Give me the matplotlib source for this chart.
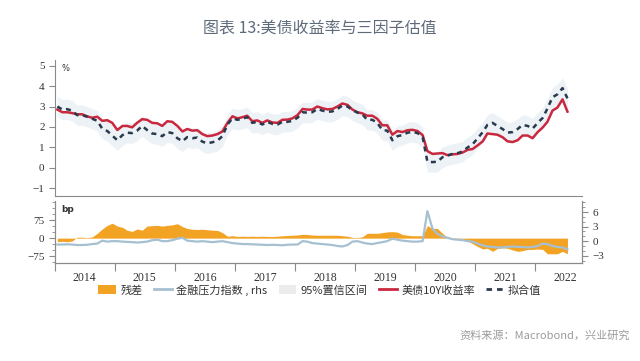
import matplotlib
matplotlib.use("Agg")
import matplotlib.pyplot as plt
from matplotlib.patches import Patch
from matplotlib.lines import Line2D
from matplotlib.ticker import MultipleLocator, NullFormatter
import numpy as np
import pandas as pd

plt.rcParams['font.family'] = ['Noto Sans CJK SC', 'DejaVu Sans']

# monthly (mid-month) readings, Jan 2014 - Jul 2022
dates = pd.date_range('2014-01-01', '2022-07-01', freq='MS') + pd.Timedelta(days=14)

ust10y = [
    2.85, 2.72, 2.72, 2.68, 2.62, 2.62, 2.52, 2.45, 2.50, 2.30, 2.33, 2.20,
    1.85, 2.05, 2.05, 1.98, 2.20, 2.38, 2.35, 2.20, 2.18, 2.05, 2.28, 2.25,
    2.05, 1.78, 1.90, 1.82, 1.84, 1.65, 1.55, 1.58, 1.65, 1.78, 2.20, 2.52,
    2.42, 2.48, 2.55, 2.28, 2.32, 2.20, 2.32, 2.22, 2.20, 2.35, 2.36, 2.42,
    2.58, 2.88, 2.85, 2.85, 3.00, 2.92, 2.86, 2.88, 3.00, 3.15, 3.08, 2.85,
    2.72, 2.66, 2.55, 2.55, 2.40, 2.08, 2.08, 1.62, 1.80, 1.75, 1.84, 1.86,
    1.80, 1.60, 0.82, 0.68, 0.70, 0.72, 0.62, 0.66, 0.68, 0.75, 0.88, 0.92,
    1.10, 1.30, 1.68, 1.65, 1.62, 1.50, 1.30, 1.26, 1.35, 1.58, 1.58, 1.45,
    1.75, 1.98, 2.25, 2.80, 2.95, 3.35, 2.75,
]
fitted = [
    3.00, 2.85, 2.87, 2.80, 2.58, 2.58, 2.50, 2.40, 2.30, 1.92, 1.80, 1.58,
    1.35, 1.60, 1.72, 1.70, 1.82, 2.05, 1.85, 1.68, 1.65, 1.55, 1.75, 1.70,
    1.45, 1.30, 1.50, 1.45, 1.48, 1.28, 1.20, 1.25, 1.33, 1.55, 2.12, 2.42,
    2.35, 2.40, 2.48, 2.20, 2.25, 2.12, 2.25, 2.15, 2.12, 2.25, 2.25, 2.30,
    2.45, 2.72, 2.70, 2.72, 2.88, 2.80, 2.74, 2.76, 2.88, 3.05, 3.00, 2.82,
    2.70, 2.60, 2.35, 2.35, 2.20, 1.85, 1.82, 1.35, 1.55, 1.60, 1.72, 1.76,
    1.70, 1.50, 0.30, 0.28, 0.30, 0.52, 0.60, 0.68, 0.72, 0.80, 1.00, 1.15,
    1.45, 1.75, 2.10, 2.20, 2.05, 1.90, 1.72, 1.75, 1.90, 2.10, 2.05, 1.92,
    2.20, 2.45, 2.90, 3.45, 3.60, 3.90, 3.40,
]
stress = [
    -0.7, -0.7, -0.65, -0.7, -0.8, -0.8, -0.75, -0.6, -0.5, 0.1, -0.1, 0.0,
    0.0, -0.1, -0.15, -0.2, -0.3, -0.2, -0.1, 0.2, 0.3, 0.0, 0.0, 0.2,
    0.5, 0.7, 0.1, 0.0, -0.1, 0.0, -0.1, -0.2, -0.1, 0.0, -0.2, -0.4,
    -0.5, -0.6, -0.6, -0.65, -0.7, -0.75, -0.8, -0.75, -0.8, -0.85, -0.75, -0.7,
    -0.7, 0.0, -0.1, -0.4, -0.5, -0.6, -0.7, -0.8, -1.0, -1.1, -0.8, -0.1,
    0.0, -0.3, -0.5, -0.6, -0.4, -0.2, 0.0, 0.5, 0.3, 0.1, 0.0, -0.1,
    -0.1, 0.0, 6.2, 2.6, 1.5, 1.0, 0.7, 0.4, 0.3, 0.2, 0.0, -0.1,
    -0.5, -0.9, -1.1, -1.2, -1.3, -1.3, -1.2, -1.1, -1.2, -1.2, -1.3, -1.2,
    -1.0, -0.5, -0.6, -1.0, -1.2, -1.3, -1.7,
]
band_half = 0.5

ust10y = np.array(ust10y)
fitted = np.array(fitted)
resid_bp = (ust10y - fitted) * 100

years = list(range(2014, 2023))

c_red = '#c9283e'
c_fit = '#2a3a4e'
c_band = '#edf2f7'
c_orange = '#f2a324'
c_fsi = '#a6c0d2'
c_spine = '#8a8a8a'
c_text = '#333333'
serif = 'Liberation Serif'

fig = plt.figure(figsize=(6.4, 3.61), dpi=100)
ax1 = fig.add_axes([0.086, 0.457, 0.823, 0.377])
ax2 = fig.add_axes([0.086, 0.271, 0.823, 0.172])
ax3 = ax2.twinx()

x0 = pd.Timestamp('2014-01-01')
x1 = pd.Timestamp('2022-10-10')

# top panel
ax1.fill_between(dates, fitted - band_half, fitted + band_half, color=c_band, lw=0)
ax1.plot(dates, ust10y, color=c_red, lw=1.8)
ax1.plot(dates, fitted, color=c_fit, lw=1.8, dashes=(2.0, 1.8))
ax1.set_xlim(x0, x1)
ax1.set_ylim(-1.38, 5.28)
ax1.set_yticks(range(-1, 6))
ax1.set_xticks([])
for s in ['top', 'right']:
    ax1.spines[s].set_visible(False)
for s in ['left', 'bottom']:
    ax1.spines[s].set_color(c_spine)
ax1.tick_params(axis='y', length=4, color=c_spine, labelsize=8, labelcolor=c_text)
ax1.text(0.012, 0.97, '%', transform=ax1.transAxes, fontsize=6, color=c_text,
         va='top', ha='left', family='DejaVu Sans')

# bottom panel
ax2.fill_between(dates, resid_bp, 0, color=c_orange, lw=0)
ax3.plot(dates, stress, color=c_fsi, lw=1.6)
ax2.set_xlim(x0, x1)
ax2.set_ylim(-104, 154)
ax3.set_ylim(-4.55, 8.28)
ax2.set_yticks([-75, 0, 75])
ax2.yaxis.set_minor_locator(MultipleLocator(25))
ax3.set_yticks([-3, 0, 3, 6])
ax3.yaxis.set_minor_locator(MultipleLocator(1))
ax2.spines['top'].set_visible(False)
ax3.spines['top'].set_visible(False)
for ax in (ax2, ax3):
    for s in ['left', 'right', 'bottom']:
        ax.spines[s].set_color(c_spine)
for ax in (ax2, ax3):
    ax.tick_params(axis='y', which='both', color=c_spine, labelsize=8, labelcolor=c_text)
    ax.tick_params(axis='y', which='major', length=4)
    ax.tick_params(axis='y', which='minor', length=2.5)
ax2.text(0.012, 0.93, 'bp', transform=ax2.transAxes, fontsize=6.5, color=c_text,
         va='top', ha='left', family='DejaVu Sans', fontweight='bold')

ax2.set_xticks([pd.Timestamp(f'{y}-01-01') for y in years])
ax2.set_xticks([pd.Timestamp(f'{y}-07-01') for y in years], minor=True)
ax2.xaxis.set_major_formatter(NullFormatter())
ax2.set_xticklabels([str(y) for y in years], minor=True)
ax2.tick_params(axis='x', which='major', length=6, color=c_spine)
ax2.tick_params(axis='x', which='minor', length=0, labelsize=8.5, labelcolor=c_text, pad=6)

for lab in (ax1.get_yticklabels() + ax2.get_yticklabels() + ax3.get_yticklabels()
            + ax2.get_xticklabels(minor=True)):
    lab.set_fontfamily(serif)

# legend
handles = [
    Patch(color=c_orange, lw=0),
    Line2D([], [], color=c_fsi, lw=2),
    Patch(color='#ececec', lw=0),
    Line2D([], [], color=c_red, lw=2),
    Line2D([], [], color=c_fit, lw=2, dashes=(2.0, 1.8)),
]
labels = ['残差', '金融压力指数 , rhs', '95%置信区间', '美债10Y收益率', '拟合值']
fig.legend(handles, labels, loc='center', bbox_to_anchor=(0.5, 0.197), ncol=5,
           frameon=False, fontsize=8, handlelength=1.6, handleheight=0.9,
           columnspacing=1.0, handletextpad=0.4, labelcolor=c_text)

fig.text(0.5, 0.922, '图表 13:美债收益率与三因子估值', ha='center', va='center',
         fontsize=11.5, color='#5d6b7b')
fig.text(0.985, 0.072, '资料来源：Macrobond，兴业研究', ha='right', va='center',
         fontsize=8, color='#9a9a9a')

fig.savefig('out.png', dpi=100)
